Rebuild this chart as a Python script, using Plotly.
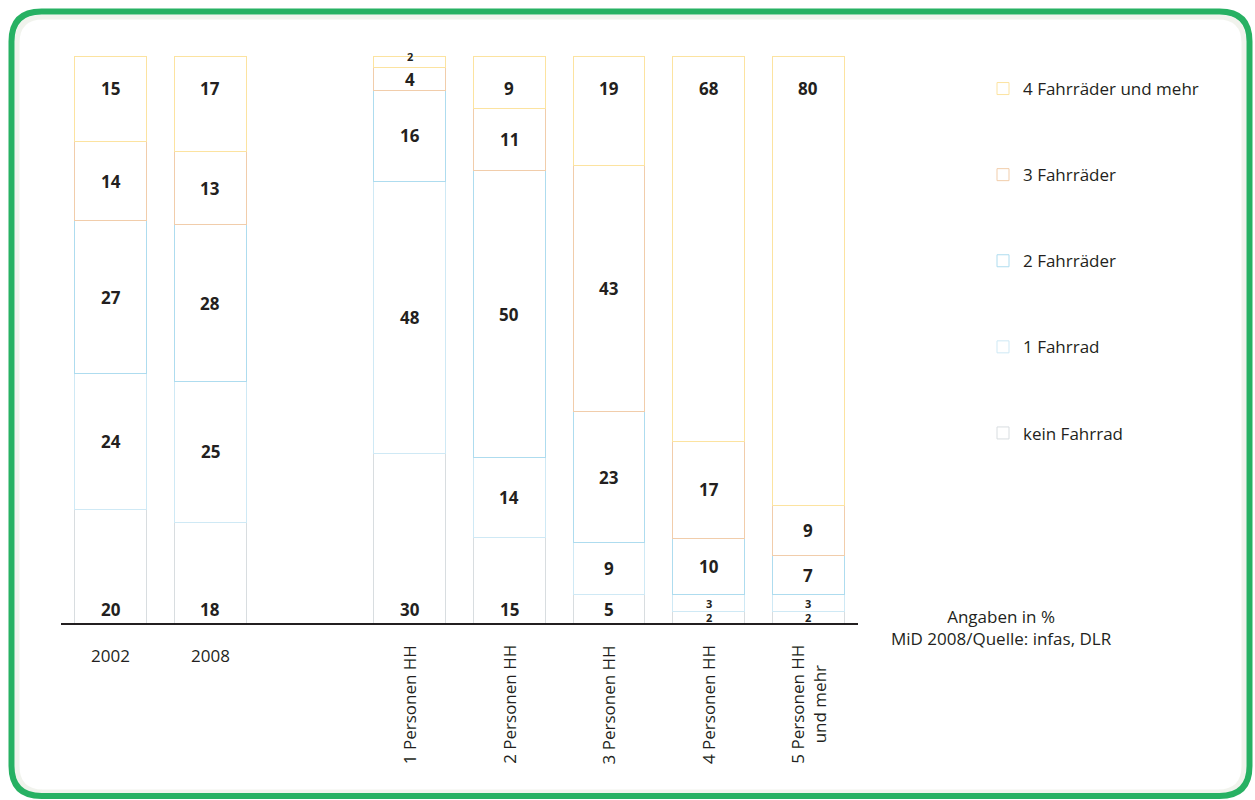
import plotly.graph_objects as go

# ---------------- data ----------------
categories = ["2002", "2008", "1 Personen HH", "2 Personen HH", "3 Personen HH",
              "4 Personen HH", "5 Personen HH<br>und mehr"]
series_names = ["kein Fahrrad", "1 Fahrrad", "2 Fahrräder", "3 Fahrräder",
                "4 Fahrräder und mehr"]
kein_fahrrad = [20, 18, 30, 15, 5, 2, 2]
ein_fahrrad = [24, 25, 48, 14, 9, 3, 3]
zwei_fahrraeder = [27, 28, 16, 50, 23, 10, 7]
drei_fahrraeder = [14, 13, 4, 11, 43, 17, 9]
vier_plus = [15, 17, 2, 9, 19, 68, 80]
note_text = "Angaben in %<br>MiD 2008/Quelle: infas, DLR"

# ---------------- style ----------------
W, H = 1255, 800
PL, PR, PT, PB = 61, 858, 48, 623          # plot area in pixels
FONT = "Open Sans"
TXT = "#231f20"
outline_colors = ["#d8dde0", "#cfe9f5", "#aedcef", "#f1cdab", "#fce3a0"]
TOP_OFFSET = 5.7      # label row below the top of a bar (in % units)
BOTTOM_OFFSET = 2.3   # label row above the base of a bar


def px_x(p):
    return (p - PL) / (PR - PL)


def px_y(p):
    return (PB - p) / (PB - PT)


spacer = " "
axis_order = categories[:2] + [spacer] + categories[2:]
values = [kein_fahrrad, ein_fahrrad, zwei_fahrraeder, drei_fahrraeder, vier_plus]
n = len(series_names)

fig = go.Figure()
for i, (name, vals, col) in enumerate(zip(series_names, values, outline_colors)):
    fig.add_trace(go.Bar(
        x=categories, y=vals, name=name,
        marker=dict(color="white", line=dict(color=col, width=1)),
        width=0.72, legendgroup=name, legendrank=n - i, hoverinfo="skip",
    ))

annotations = []
# value labels, placed in the stack via the normalised (percent) values
for j, c in enumerate(categories):
    total = sum(v[j] for v in values)
    base = 0.0
    for i, vals in enumerate(values):
        v = vals[j]
        share = v / total * 100
        if i == n - 1:
            y = 100 - TOP_OFFSET if v >= 5 else 100
        elif i == 0:
            y = BOTTOM_OFFSET if v >= 5 else base + share / 2
        else:
            y = base + share / 2
        annotations.append(dict(
            x=axis_order.index(c), xref="x", y=y, yref="y", text=str(v),
            showarrow=False, xanchor="center", yanchor="middle",
            font=dict(family=FONT, size=11 if v <= 3 else 17, color=TXT,
                      weight="bold")))
        base += share

for c in categories[:2]:
    annotations.append(dict(x=axis_order.index(c), xref="x", y=px_y(655), yref="paper",
                            text=c, showarrow=False, xanchor="center", yanchor="middle",
                            font=dict(family=FONT, size=17, color=TXT)))
for c in categories[2:]:
    annotations.append(dict(x=axis_order.index(c), xref="x", y=px_y(643), yref="paper",
                            text=c, showarrow=False, textangle=-90,
                            xanchor="center", yanchor="top", align="center",
                            font=dict(family=FONT, size=17, color=TXT)))
annotations.append(dict(x=px_x(1001), xref="paper", y=px_y(627), yref="paper",
                        text=note_text, showarrow=False, align="center",
                        xanchor="center", yanchor="middle",
                        font=dict(family=FONT, size=17, color=TXT)))


def rounded(x0, y0, x1, y1, r):
    return (f"M {px_x(x0 + r)},{px_y(y0)} L {px_x(x1 - r)},{px_y(y0)} "
            f"Q {px_x(x1)},{px_y(y0)} {px_x(x1)},{px_y(y0 + r)} "
            f"L {px_x(x1)},{px_y(y1 - r)} Q {px_x(x1)},{px_y(y1)} {px_x(x1 - r)},{px_y(y1)} "
            f"L {px_x(x0 + r)},{px_y(y1)} Q {px_x(x0)},{px_y(y1)} {px_x(x0)},{px_y(y1 - r)} "
            f"L {px_x(x0)},{px_y(y0 + r)} Q {px_x(x0)},{px_y(y0)} {px_x(x0 + r)},{px_y(y0)} Z")


shapes = [
    dict(type="path", xref="paper", yref="paper", path=rounded(17, 17, 1244, 792, 26),
         line=dict(color="rgba(225,228,215,0.45)", width=5), layer="below"),
    dict(type="path", xref="paper", yref="paper", path=rounded(11.5, 11.5, 1249.5, 796, 30),
         line=dict(color="#27b163", width=6), layer="below"),
]

fig.update_layout(
    width=W, height=H, autosize=False,
    margin=dict(l=PL, r=W - PR, t=PT, b=H - PB, pad=0),
    paper_bgcolor="white", plot_bgcolor="white",
    barmode="stack", barnorm="percent",
    font=dict(family=FONT, color=TXT),
    xaxis=dict(type="category", categoryorder="array", categoryarray=axis_order,
               range=[-0.5, len(axis_order) - 0.5], showticklabels=False,
               ticks="", showgrid=False, zeroline=False, showline=True,
               linecolor=TXT, linewidth=2, layer="below traces", fixedrange=True),
    yaxis=dict(range=[0, 101.5], visible=False, fixedrange=True),
    legend=dict(x=px_x(983), y=px_y(71), xanchor="left", yanchor="top",
                traceorder="grouped", tracegroupgap=61,
                font=dict(family=FONT, size=17, color=TXT),
                bgcolor="rgba(0,0,0,0)"),
    annotations=annotations, shapes=shapes,
)

fig.write_html("out.html", config={"displayModeBar": False},
               post_script="document.body.style.margin='0';")
